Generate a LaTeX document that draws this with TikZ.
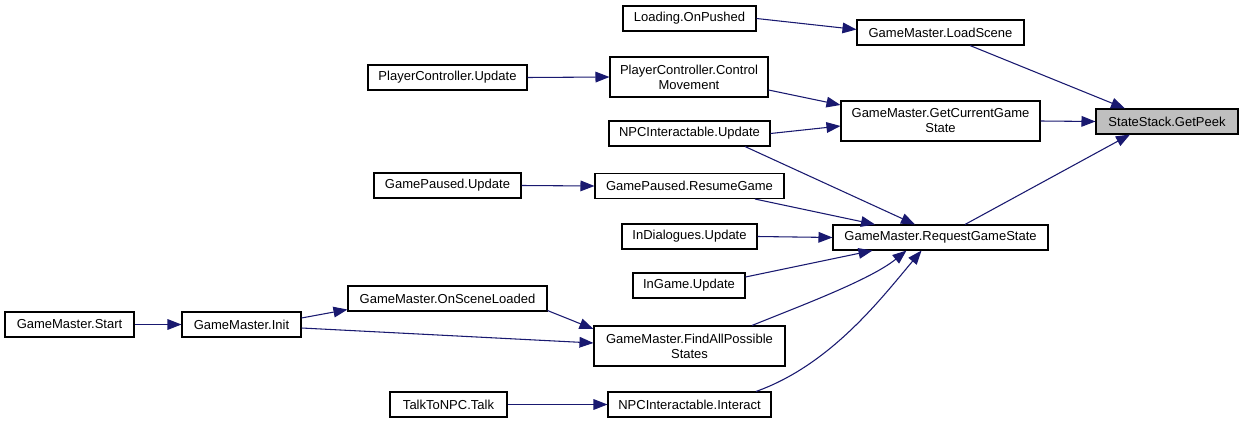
\documentclass[tikz,border=0pt]{standalone}
\usepackage{fontspec}
\setmainfont{Liberation Sans}
\usetikzlibrary{arrows.meta,calc}
\definecolor{edgeblue}{HTML}{191970}
\definecolor{peekgray}{HTML}{BFBFBF}
\begin{document}
\begin{tikzpicture}[x=0.75pt,y=-0.75pt,
  box/.style={draw=black,line width=0.8pt,fill=white,inner sep=0pt,align=center,
    font=\fontsize{9.75}{11.25}\selectfont,minimum height=18.75pt},
  tall/.style={minimum height=30pt},
  edge/.style={draw=edgeblue,line width=0.8pt,
    -{Triangle[length=10.5pt,width=8pt]}}]
\useasboundingbox[fill=white] (0,0) rectangle (1244,424);
% nodes
\node[box,fill=peekgray,minimum width=106.5pt] (peek) at (1167,121.5) {StateStack.GetPeek};
\node[box,minimum width=125.25pt] (load) at (940.5,32.5) {GameMaster.LoadScene};
\node[box,minimum width=99.75pt] (onpushed) at (689.5,18.5) {Loading.OnPushed};
\node[box,tall,minimum width=118.5pt] (ctrl) at (689,77) {PlayerController.Control\\Movement};
\node[box,minimum width=119.25pt] (pcupd) at (447.5,77.5) {PlayerController.Update};
\node[box,tall,minimum width=149.25pt] (getcur) at (940.5,121) {GameMaster.GetCurrentGame\\State};
\node[box,minimum width=120.75pt] (npcupd) at (689.5,133.5) {NPCInteractable.Update};
\node[box,minimum width=110.25pt] (gpupd) at (447.5,185.5) {GamePaused.Update};
\node[box,minimum width=141.75pt] (resume) at (689.5,186) {GamePaused.ResumeGame};
\node[box,minimum width=101.25pt] (indlg) at (689.5,236.5) {InDialogues.Update};
\node[box,minimum width=161.25pt] (req) at (940.5,237.5) {GameMaster.RequestGameState};
\node[box,minimum width=84pt] (ingame) at (689,285.5) {InGame.Update};
\node[box,minimum width=149.25pt] (onscene) at (447.5,298.5) {GameMaster.OnSceneLoaded};
\node[box,minimum width=96.75pt] (start) at (69.5,324.5) {GameMaster.Start};
\node[box,minimum width=89.25pt] (init) at (241.5,324.5) {GameMaster.Init};
\node[box,tall,minimum width=143.25pt] (findall) at (689.5,346) {GameMaster.FindAllPossible\\States};
\node[box,minimum width=87.75pt] (talk) at (448.5,404.5) {TalkToNPC.Talk};
\node[box,minimum width=122.25pt] (interact) at (689.5,404.5) {NPCInteractable.Interact};
% edges
\draw[edge] (onpushed.east) -- ($(load.west)+(0,-3)$);
\draw[edge] ($(load.south)+(29.5,0)$) -- ($(peek.north)+(-42,0)$);
\draw[edge] (pcupd.east) -- (ctrl.west);
\draw[edge] ($(ctrl.east)+(0,13)$) -- ($(getcur.west)+(0,-16)$);
\draw[edge] (npcupd.east) -- ($(getcur.west)+(0,5)$);
\draw[edge] (getcur.east) -- (peek.west);
\draw[edge] ($(npcupd.south)+(55.5,0)$) -- ($(req.north)+(-25.5,0)$);
\draw[edge] (gpupd.east) -- (resume.west);
\draw[edge] ($(resume.south)+(65.5,0)$) -- ($(req.north)+(-65.5,0)$);
\draw[edge] (indlg.east) -- (req.west);
\draw[edge] ($(ingame.east)+(0,-8.5)$) -- ($(req.south)+(-68,0)$);
\draw[edge] ($(req.north)+(24.5,0)$) -- ($(peek.south)+(-37,0)$);
\draw[edge] (start.east) -- (init.west);
\draw[edge] ($(init.east)+(0,-6.5)$) -- ($(onscene.south west)+(0,-2)$);
\draw[edge] ($(init.east)+(0,3.5)$) -- ($(findall.west)+(0,-3)$);
\draw[edge] ($(onscene.south east)+(0,-1)$) -- ($(findall.west)+(0,-17)$);
\draw[edge] ($(findall.north)+(62.5,0)$) .. controls (800,306) and (870,280) .. ($(req.south)+(-34,0)$);
\draw[edge] (talk.east) -- (interact.west);
\draw[edge] ($(interact.north)+(66.5,0)$) .. controls (830,365) and (880,300) .. ($(req.south)+(-19,0)$);
\end{tikzpicture}
\end{document}
